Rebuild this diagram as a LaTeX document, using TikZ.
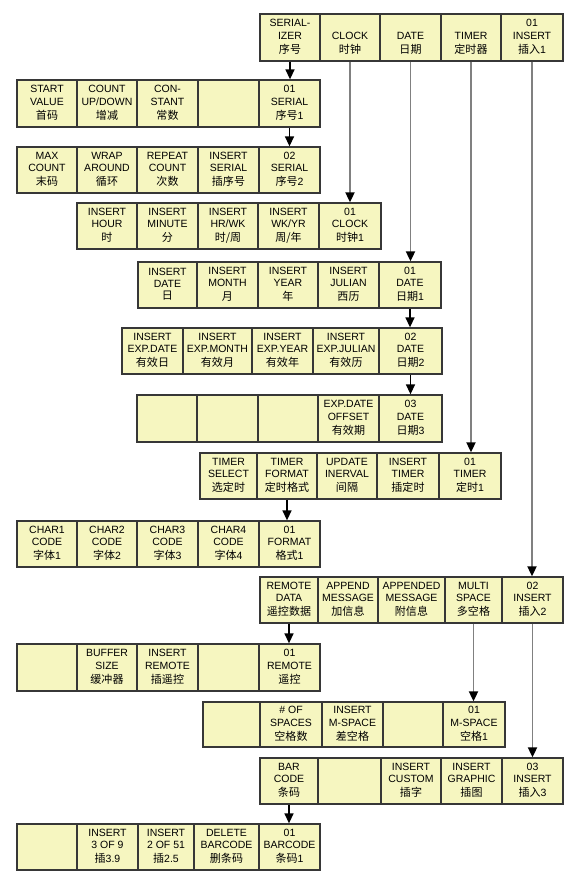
\documentclass[tikz,border=0pt]{standalone}
\usepackage{fontspec}
\setmainfont{Liberation Sans}
\newfontfamily\cjkf{Noto Sans CJK SC}[Scale=1.05]
\newcommand\zh[1]{{\cjkf #1}}
\newcommand\tl[3]{\strut#1\\\strut#2\\\strut#3}
\usetikzlibrary{arrows.meta}
\definecolor{cellfill}{RGB}{246,246,192}
\definecolor{celledge}{RGB}{55,55,55}
\newcommand\cell[6]{\node[cellbox, minimum width={#3-#2}, minimum height={#5-#4}] (#1) at ({(#2+#3)/2},{(#4+#5)/2}) {#6};}
\begin{document}
\begin{tikzpicture}[x=1pt,y=-1pt,
 cellbox/.style={draw=celledge, line width=1.3pt, fill=cellfill, inner sep=0pt, align=center, font=\fontsize{10.5}{12.3}\selectfont},
 shortarrow/.style={draw=black, line width=1.4pt, -{Triangle[width=9pt,length=10pt]}},
 longarrow/.style={draw=gray, line width=1.8pt, -{Triangle[width=9pt,length=10pt,black]}}]
\fill[white] (0,0) rectangle (580,886);
\useasboundingbox (0,0) rectangle (580,886);
% R0
\cell{r0c1}{260}{320}{14}{61}{\tl{SERIAL-}{IZER}{\zh{序号}}}
\cell{r0c2}{320}{380}{14}{61}{\tl{}{CLOCK}{\zh{时钟}}}
\cell{r0c3}{380}{441}{14}{61}{\tl{}{DATE}{\zh{日期}}}
\cell{r0c4}{441}{501}{14}{61}{\tl{}{TIMER}{\zh{定时器}}}
\cell{r0c5}{501}{563}{14}{61}{\tl{01}{INSERT}{\zh{插入}1}}
% R1
\cell{r1c1}{17}{77}{80}{127}{\tl{START}{VALUE}{\zh{首码}}}
\cell{r1c2}{77}{137}{80}{127}{\tl{COUNT}{UP/DOWN}{\zh{增减}}}
\cell{r1c3}{137}{198}{80}{127}{\tl{CON-}{STANT}{\zh{常数}}}
\cell{r1c4}{198}{259}{80}{127}{\tl{}{}{}}
\cell{r1c5}{259}{320}{80}{127}{\tl{01}{SERIAL}{\zh{序号}1}}
% R2
\cell{r2c1}{17}{77}{147}{193}{\tl{MAX}{COUNT}{\zh{末码}}}
\cell{r2c2}{77}{137}{147}{193}{\tl{WRAP}{AROUND}{\zh{循环}}}
\cell{r2c3}{137}{198}{147}{193}{\tl{REPEAT}{COUNT}{\zh{次数}}}
\cell{r2c4}{198}{259}{147}{193}{\tl{INSERT}{SERIAL}{\zh{插序号}}}
\cell{r2c5}{259}{320}{147}{193}{\tl{02}{SERIAL}{\zh{序号}2}}
% R3
\cell{r3c1}{77}{137}{203}{249}{\tl{INSERT}{HOUR}{\zh{时}}}
\cell{r3c2}{137}{198}{203}{249}{\tl{INSERT}{MINUTE}{\zh{分}}}
\cell{r3c3}{198}{258}{203}{249}{\tl{INSERT}{HR/WK}{\zh{时/周}}}
\cell{r3c4}{258}{319}{203}{249}{\tl{INSERT}{WK/YR}{\zh{周/年}}}
\cell{r3c5}{319}{381}{203}{249}{\tl{01}{CLOCK}{\zh{时钟}1}}
% R4
\cell{r4c1}{138}{197}{262}{308}{\tl{INSERT}{DATE}{\zh{日}}}
\cell{r4c2}{197}{258}{262}{308}{\tl{INSERT}{MONTH}{\zh{月}}}
\cell{r4c3}{258}{318}{262}{308}{\tl{INSERT}{YEAR}{\zh{年}}}
\cell{r4c4}{318}{379}{262}{308}{\tl{INSERT}{JULIAN}{\zh{西历}}}
\cell{r4c5}{379}{441}{262}{308}{\tl{01}{DATE}{\zh{日期}1}}
% R5
\cell{r5c1}{122}{183}{328}{374}{\tl{INSERT}{EXP.DATE}{\zh{有效日}}}
\cell{r5c2}{183}{252}{328}{374}{\tl{INSERT}{EXP.MONTH}{\zh{有效月}}}
\cell{r5c3}{252}{313}{328}{374}{\tl{INSERT}{EXP.YEAR}{\zh{有效年}}}
\cell{r5c4}{313}{379}{328}{374}{\tl{INSERT}{EXP.JULIAN}{\zh{有效历}}}
\cell{r5c5}{379}{442}{328}{374}{\tl{02}{DATE}{\zh{日期}2}}
% R6
\cell{r6c1}{137}{197}{395}{442}{\tl{}{}{}}
\cell{r6c2}{197}{258}{395}{442}{\tl{}{}{}}
\cell{r6c3}{258}{318}{395}{442}{\tl{}{}{}}
\cell{r6c4}{318}{379}{395}{442}{\tl{EXP.DATE}{OFFSET}{\zh{有效期}}}
\cell{r6c5}{379}{442}{395}{442}{\tl{03}{DATE}{\zh{日期}3}}
% R7
\cell{r7c1}{200}{257}{453}{499}{\tl{TIMER}{SELECT}{\zh{选定时}}}
\cell{r7c2}{257}{317}{453}{499}{\tl{TIMER}{FORMAT}{\zh{定时格式}}}
\cell{r7c3}{317}{377}{453}{499}{\tl{UPDATE}{INERVAL}{\zh{间隔}}}
\cell{r7c4}{377}{439}{453}{499}{\tl{INSERT}{TIMER}{\zh{插定时}}}
\cell{r7c5}{439}{501}{453}{499}{\tl{01}{TIMER}{\zh{定时}1}}
% R8
\cell{r8c1}{17}{77}{521}{567}{\tl{CHAR1}{CODE}{\zh{字体}1}}
\cell{r8c2}{77}{137}{521}{567}{\tl{CHAR2}{CODE}{\zh{字体}2}}
\cell{r8c3}{137}{198}{521}{567}{\tl{CHAR3}{CODE}{\zh{字体}3}}
\cell{r8c4}{198}{259}{521}{567}{\tl{CHAR4}{CODE}{\zh{字体}4}}
\cell{r8c5}{259}{320}{521}{567}{\tl{01}{FORMAT}{\zh{格式}1}}
% R9
\cell{r9c1}{260}{318}{577}{623}{\tl{REMOTE}{DATA}{\zh{遥控数据}}}
\cell{r9c2}{318}{378}{577}{623}{\tl{APPEND}{MESSAGE}{\zh{加信息}}}
\cell{r9c3}{378}{445}{577}{623}{\tl{APPENDED}{MESSAGE}{\zh{附信息}}}
\cell{r9c4}{445}{502}{577}{623}{\tl{MULTI}{SPACE}{\zh{多空格}}}
\cell{r9c5}{502}{563}{577}{623}{\tl{02}{INSERT}{\zh{插入}2}}
% R10
\cell{r10c1}{17}{77}{644}{691}{\tl{}{}{}}
\cell{r10c2}{77}{137}{644}{691}{\tl{BUFFER}{SIZE}{\zh{缓冲器}}}
\cell{r10c3}{137}{198}{644}{691}{\tl{INSERT}{REMOTE}{\zh{插遥控}}}
\cell{r10c4}{198}{259}{644}{691}{\tl{}{}{}}
\cell{r10c5}{259}{320}{644}{691}{\tl{01}{REMOTE}{\zh{遥控}}}
% R11
\cell{r11c1}{203}{260}{702}{747}{\tl{}{}{}}
\cell{r11c2}{260}{322}{702}{747}{\tl{\# OF}{SPACES}{\zh{空格数}}}
\cell{r11c3}{322}{383}{702}{747}{\tl{INSERT}{M-SPACE}{\zh{差空格}}}
\cell{r11c4}{383}{443}{702}{747}{\tl{}{}{}}
\cell{r11c5}{443}{505}{702}{747}{\tl{01}{M-SPACE}{\zh{空格}1}}
% R12
\cell{r12c1}{260}{318}{758}{804}{\tl{BAR}{CODE}{\zh{条码}}}
\cell{r12c2}{318}{381}{758}{804}{\tl{}{}{}}
\cell{r12c3}{381}{441}{758}{804}{\tl{INSERT}{CUSTOM}{\zh{插字}}}
\cell{r12c4}{441}{502}{758}{804}{\tl{INSERT}{GRAPHIC}{\zh{插图}}}
\cell{r12c5}{502}{563}{758}{804}{\tl{03}{INSERT}{\zh{插入}3}}
% R13
\cell{r13c1}{17}{77}{824}{870}{\tl{}{}{}}
\cell{r13c2}{77}{138}{824}{870}{\tl{INSERT}{3 OF 9}{\zh{插}3.9}}
\cell{r13c3}{138}{194}{824}{870}{\tl{INSERT}{2 OF 51}{\zh{插}2.5}}
\cell{r13c4}{194}{259}{824}{870}{\tl{DELETE}{BARCODE}{\zh{删条码}}}
\cell{r13c5}{259}{320}{824}{870}{\tl{01}{BARCODE}{\zh{条码}1}}
% connectors
\draw[shortarrow] (r0c1.south) -- (r0c1.south |- r1c5.north);
\draw[shortarrow] (r1c5.south) -- (r2c5.north);
\draw[longarrow] (r0c2.south) -- (r0c2.south |- r3c5.north);
\draw[longarrow] (r0c3.south) -- (r0c3.south |- r4c5.north);
\draw[shortarrow] (r4c5.south) -- (r4c5.south |- r5c5.north);
\draw[shortarrow] (r5c5.south) -- (r6c5.north);
\draw[longarrow] (r0c4.south) -- (r0c4.south |- r7c5.north);
\draw[shortarrow] (r7c2.south) -- (r7c2.south |- r8c5.north);
\draw[longarrow] (r0c5.south) -- (r0c5.south |- r9c5.north);
\draw[shortarrow] (r9c1.south) -- (r9c1.south |- r10c5.north);
\draw[longarrow] (r9c4.south) -- (r9c4.south |- r11c5.north);
\draw[longarrow] (r9c5.south) -- (r12c5.north);
\draw[shortarrow] (r12c1.south) -- (r12c1.south |- r13c5.north);
\end{tikzpicture}
\end{document}
